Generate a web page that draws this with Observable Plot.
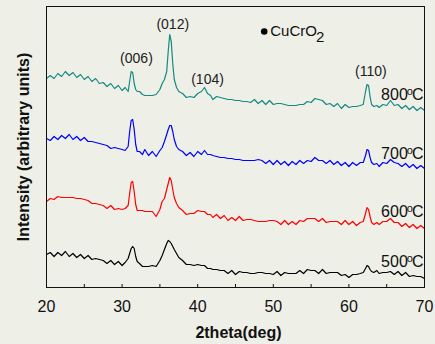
<!DOCTYPE html>
<html><head><meta charset="utf-8">
<script src="https://cdn.jsdelivr.net/npm/d3@7"></script>
<script src="https://cdn.jsdelivr.net/npm/@observablehq/plot@0.6"></script>
<style>
html,body{margin:0;padding:0;background:#eeefe7;}
svg{display:block;}
</style></head><body><div id="chart"></div>
<script>
// 2theta positions (deg)
const twoTheta = [20,20.5,21,21.5,22,22.5,23,23.5,24,24.5,25,25.5,26,26.5,27,27.5,28,28.5,29,29.5,30,
  30.4,30.8,31.0,31.2,31.4,31.6,31.8,32.0,32.3,32.7,33.0,33.5,34.0,34.5,35.0,
  35.3,35.6,35.9,36.1,36.3,36.5,36.7,36.9,37.2,37.5,
  38.0,38.5,39.0,39.5,40.0,40.5,40.9,41.3,41.7,42.0,
  42.5,43,43.5,44,44.5,45,45.5,46,46.5,47,47.5,48,48.5,49,49.5,50,50.5,51,51.5,52,52.5,53,53.5,54,54.5,55,55.5,56,56.5,57,57.5,58,58.5,59,59.5,60,60.5,61,61.5,
  61.9,62.2,62.4,62.6,62.8,63.0,63.3,63.7,
  64,64.5,65,65.5,66,66.5,67,67.5,68,68.5,69,69.5,70];

// stacked intensities (arbitrary units)
const i800 = [209,212,209,214,211,216,212,215,210,213,208,211,206,209,204,205,201,204,199,202,197,
  200,196,206,216,215,204,198,196,196,193,192,192,192,193,198,
  204,208,216,236,253,246,224,208,200,196,
  194,190,191,190,194,196,200,194,192,188,
  191,190,189,188,188,187,187,186,186,185,188,184,187,183,187,183,184,184,183,182,182,182,183,183,186,185,189,188,187,183,184,181,184,179,183,180,181,181,182,
  183,196,203,202,191,183,181,182,
  180,183,182,187,182,183,179,182,178,181,177,180,177];
const i700 = [149,147,151,148,152,149,153,148,151,147,150,146,146,145,144,143,142,139,140,139,138,
  137,141,156,167,168,158,143,136,136,133,138,132,136,131,137,
  140,146,153,158,162,162,156,148,141,138,
  136,132,135,131,136,133,137,133,133,132,
  131,130,130,129,129,128,128,127,127,127,127,128,127,124,127,123,127,123,126,122,126,123,127,124,127,126,130,127,127,124,127,123,126,122,125,121,125,122,125,
  125,132,138,137,130,125,123,124,
  121,125,124,128,125,124,121,124,120,123,119,122,119];
const i600 = [86,89,88,91,90,90,90,90,89,89,88,87,84,84,83,82,79,82,78,79,78,
  79,82,94,105,106,96,83,77,77,77,76,76,76,71,78,
  86,89,98,104,110,107,98,90,84,80,
  77,73,74,74,77,76,76,73,73,70,
  73,69,72,67,70,67,71,67,68,68,67,66,66,66,67,67,66,63,67,63,66,63,67,66,69,69,69,66,69,65,66,66,66,63,67,63,66,62,65,
  66,74,80,78,71,65,63,65,
  63,66,66,69,65,65,61,64,60,63,59,62,59];
const i500 = [33,35,31,35,32,36,31,34,30,33,29,32,28,29,28,27,24,27,23,26,22,
  25,29,34,39,41,39,31,26,24,21,21,21,22,21,27,
  32,38,44,47,46,44,41,38,34,30,
  27,23,23,22,23,22,22,19,19,18,
  18,17,17,14,17,13,16,15,15,14,14,15,15,14,14,13,16,12,15,14,14,14,17,14,18,17,17,14,18,14,15,15,15,12,13,10,13,13,14,
  15,19,22,21,18,16,15,17,
  14,15,15,16,13,16,12,15,11,12,11,11,9];

const seriesNames = ["800","700","600","500"];
const seriesValues = [i800, i700, i600, i500];
const seriesColors = ["#138a82","#0000ff","#ff0000","#000000"];
// temperature label heights (intensity units)
const tempLabelY = [193, 134, 76, 26];

// peak (hkl) labels
const peakNames = ["(006)","(012)","(104)","(110)"];
const peakX = [31.9, 36.7, 41.3, 62.9];
const peakY = [229, 263, 208, 216];

const majorTicks = [20,30,40,50,60,70];
const allTicks = [20,25,30,35,40,45,50,55,60,65,70];

const rows = seriesNames.flatMap((s, k) => twoTheta.map((x, i) => ({x, y: seriesValues[k][i], s})));
const temps = seriesNames.map((s, k) => ({s, y: tempLabelY[k]}));
const peaks = peakNames.map((t, k) => ({t, x: peakX[k], y: peakY[k]}));

const font = "'Liberation Sans', Arial, sans-serif";

const plot = Plot.plot({
  width: 435, height: 344,
  marginLeft: 46, marginRight: 11, marginTop: 6, marginBottom: 57,
  style: {background: "#eeefe7", fontFamily: font, color: "#111", overflow: "visible"},
  x: {domain: [20, 70]},
  y: {domain: [0, 281]},
  color: {domain: seriesNames, range: seriesColors},
  marks: [
    Plot.axisX({ticks: majorTicks, tickSize: 0, tickPadding: 13, fontSize: 16, label: null, tickFormat: d => String(d)}),
    Plot.ruleX(allTicks, {x: d => d, y1: 0, y2: 3, stroke: "#111"}),
    Plot.axisY({ticks: [], label: null}),
    Plot.lineY(rows, {x: "x", y: "y", z: "s", stroke: "s", strokeWidth: 1.2}),
    Plot.frame({stroke: "#111", strokeWidth: 1}),
    Plot.text(temps, {x: 70, y: "y", text: d => d.s + "oC", textAnchor: "end", dx: -1, fontSize: 16, fill: "#111"}),
    Plot.text(peaks, {x: "x", y: "y", text: "t", fontSize: 14, fill: "#222"}),
    Plot.dot([{x: 48.8, y: 256}], {x: "x", y: "y", r: 3.3, fill: "#000", stroke: null}),
    Plot.text([{x: 49.6, y: 256}], {x: "x", y: "y", text: () => "CuCrO2", textAnchor: "start", fontSize: 15, fill: "#111"}),
    Plot.text(["2theta(deg)"], {frameAnchor: "bottom", text: d => d, dx: 3, dy: 45, lineAnchor: "middle", fontSize: 16, fontWeight: "bold", fill: "#111"}),
    Plot.text(["Intensity (arbitrary units)"], {frameAnchor: "left", text: d => d, dx: -23, rotate: -90, lineAnchor: "middle", textAnchor: "middle", fontSize: 16, fontWeight: "bold", fill: "#111"})
  ]
});

// typographic super/subscripts
d3.select(plot).selectAll("text").each(function() {
  const t = this.textContent;
  const m = /^(\d00)oC$/.exec(t);
  const sel = d3.select(this);
  if (m) {
    sel.text(null);
    sel.append("tspan").text(m[1]);
    sel.append("tspan").attr("dy", "-5").attr("font-size", 11).attr("dx", "-1").text("o");
    sel.append("tspan").attr("dy", "5").attr("dx", "-1").text("C");
  } else if (t === "CuCrO2") {
    sel.text(null);
    sel.append("tspan").text("CuCrO");
    sel.append("tspan").attr("dy", "6").attr("dx", "-1").text("2");
  }
});

document.getElementById("chart").appendChild(plot);
</script>
</body></html>
